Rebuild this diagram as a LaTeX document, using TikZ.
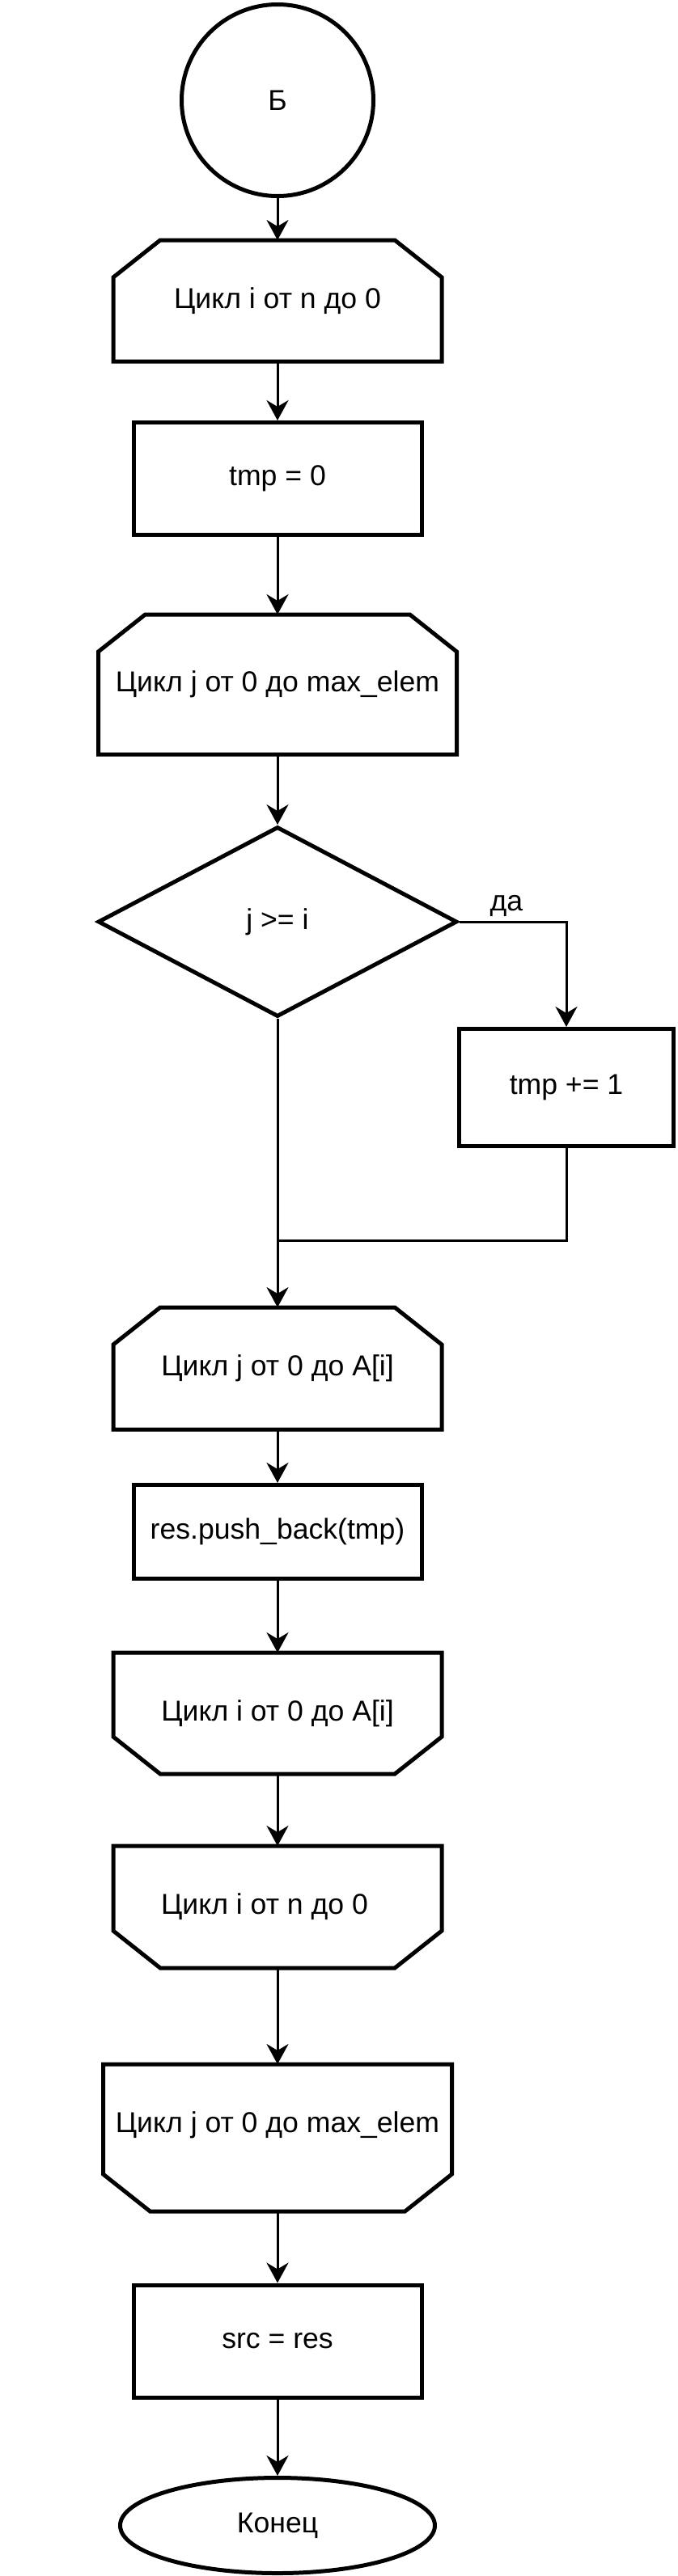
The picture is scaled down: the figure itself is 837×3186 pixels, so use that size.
\documentclass[tikz,border=0pt]{standalone}
\usepackage{fontspec}
\setmainfont{Liberation Sans}
\usetikzlibrary{arrows.meta,shapes.geometric}

\begin{document}
\begin{tikzpicture}[x=0.5pt, y=-0.5pt,
  txt/.style={font=\fontsize{17.8pt}{21pt}\selectfont, inner sep=0pt},
  blok/.style={txt, draw, rectangle, line width=2.5pt, minimum width=178pt, minimum height=69.5pt},
  cikl/.style={txt, rectangle, outer sep=1.25pt, minimum width=200.5pt, minimum height=72.5pt},
  kontur/.style={line width=2.5pt, line join=miter},
  liniya/.style={line width=1.5pt},
  strelka/.style={liniya, -{Stealth[length=12.5pt, width=13.5pt, inset=4pt]}}]
  % Размер листа как у исходной схемы (в пикселях, y вниз)
  \useasboundingbox (0,0) rectangle (837,3186);

  % Начало: соединитель «Б»
  \node[txt, draw, circle, line width=2.5pt, minimum size=118.5pt] (b) at (343,124) {Б};

  % Внешний цикл по i и обнуление счётчика
  \node[cikl] (c1) at (343,372) {Цикл i от n до 0};
  \node[blok] (tmp0) at (343,592) {tmp = 0};

  % Внутренний цикл по j с условием
  \node[cikl, minimum width=219pt, minimum height=84pt] (c2) at (343,846.5) {Цикл j от 0 до max\_elem};
  \node[txt, draw, diamond, line width=2.5pt, minimum width=222pt, minimum height=117.5pt] (usl) at (343,1140) {j >= i};
  \node[blok, minimum width=132.5pt, minimum height=72.5pt] (inc) at (700,1345) {tmp += 1};
  \coordinate (sliv) at (343,1534);

  % Цикл по j до A[i] и запись результата
  \node[cikl, minimum height=73pt] (c3) at (343,1692.5) {Цикл j от 0 до A[i]};
  \node[blok, minimum height=58pt] (push) at (343,1894.5) {res.push\_back(tmp)};

  % Концы циклов
  \node[cikl] (k1) at (343,2119) {Цикл i от 0 до A[i]};
  \node[cikl, minimum height=73pt] (k2) at (343,2358.5) {Цикл i от n до 0\hspace*{16pt}};
  \node[cikl, minimum width=213pt, minimum height=88.5pt] (k3) at (343,2644) {\raisebox{19pt}{Цикл j от 0 до max\_elem}};

  % Копирование и конец
  \node[blok] (src) at (343,2895.5) {src = res};
  \node[txt, draw, ellipse, line width=2.5pt, minimum width=194.5pt, minimum height=59pt] (konec) at (343,3123.5) {Конец};

  % Контуры начала цикла (срезаны верхние углы)
  \foreach \n in {c1,c2,c3} {
    \draw[kontur] (\n.south west) -- ([yshift=-23pt]\n.north west) -- ([xshift=29pt]\n.north west)
      -- ([xshift=-29pt]\n.north east) -- ([yshift=-23pt]\n.north east) -- (\n.south east) -- cycle;
  }
  % Контуры конца цикла (срезаны нижние углы)
  \foreach \n in {k1,k2,k3} {
    \draw[kontur] (\n.north west) -- ([yshift=23pt]\n.south west) -- ([xshift=29pt]\n.south west)
      -- ([xshift=-29pt]\n.south east) -- ([yshift=23pt]\n.south east) -- (\n.north east) -- cycle;
  }

  % Стрелки
  \draw[strelka] (b.south) -- (c1.north);
  \draw[strelka] (c1.south) -- (tmp0.north);
  \draw[strelka] (tmp0.south) -- (c2.north);
  \draw[strelka] (c2.south) -- (usl.north);
  \draw[strelka] (usl.east) -| (inc.north) node[txt, pos=0.22, above=2.5pt] {да};
  \draw[liniya] (inc.south) |- (sliv);
  \draw[strelka] (usl.south) -- (c3.north);
  \draw[strelka] (c3.south) -- (push.north);
  \draw[strelka] (push.south) -- (k1.north);
  \draw[strelka] (k1.south) -- (k2.north);
  \draw[strelka] (k2.south) -- (k3.north);
  \draw[strelka] (k3.south) -- (src.north);
  \draw[strelka] (src.south) -- (konec.north);
\end{tikzpicture}
\end{document}
